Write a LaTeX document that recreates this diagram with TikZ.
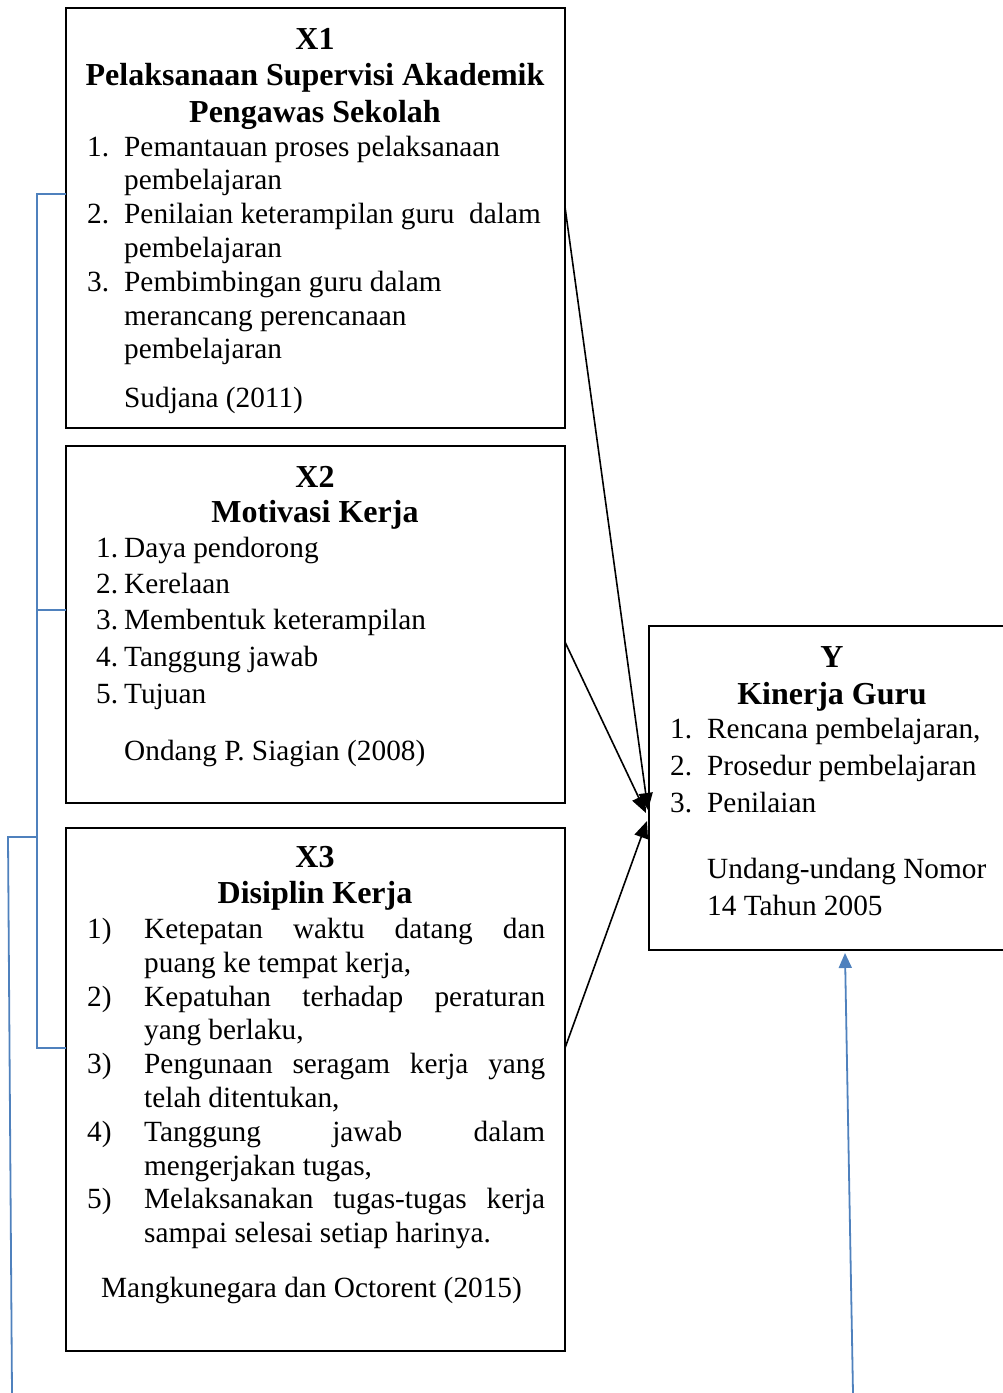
\documentclass[tikz,border=0pt]{standalone}
\usepackage{fontspec}
\setmainfont{Liberation Serif}
\usetikzlibrary{arrows.meta}
\definecolor{bluline}{HTML}{4F81BD}
\newcommand\fsz{\fontsize{29.3}{34}\selectfont}
\newcommand\fsb{\fontsize{32}{36}\selectfont\bfseries}
\begin{document}
\begin{tikzpicture}[x=1pt,y=-1pt,
  box/.style={draw,line width=2pt,anchor=north west,inner sep=0pt,outer sep=0pt},
  txt/.style={anchor=base west,inner sep=0pt,font=\fsz},
  ttl/.style={anchor=base,inner sep=0pt,font=\fsb},
  arr/.style={line width=1.6pt,-{Triangle[length=17pt,width=14pt]}},
  blu/.style={draw=bluline,line width=1.8pt}]
\useasboundingbox (0,0) rectangle (1003,1393);
\clip (0,0) rectangle (1003,1393);
% boxes
\node[box,minimum width=499pt,minimum height=420pt] (X1) at (66,8) {};
\node[box,minimum width=499pt,minimum height=357pt] (X2) at (66,446) {};
\node[box,minimum width=499pt,minimum height=523pt] (X3) at (66,828) {};
\node[box,minimum width=400pt,minimum height=324pt] (Y) at (649,626) {};
% X1 text
\node[ttl] (x1a) at (315,49) {X1};
\node[ttl] (x1b) at (315,85) {Pelaksanaan Supervisi Akademik};
\node[ttl] (x1c) at (315,122) {Pengawas Sekolah};
\node[txt] (x1n1) at (87,156) {1.};
\node[txt] (x1t1) at (124,156) {Pemantauan proses pelaksanaan};
\node[txt] (x1t1b) at (124,189) {pembelajaran};
\node[txt] (x1n2) at (87,223) {2.};
\node[txt] (x1t2) at (124,223) {Penilaian keterampilan guru\ \ dalam};
\node[txt] (x1t2b) at (124,257) {pembelajaran};
\node[txt] (x1n3) at (87,291) {3.};
\node[txt] (x1t3) at (124,291) {Pembimbingan guru dalam};
\node[txt] (x1t3b) at (124,325) {merancang perencanaan};
\node[txt] (x1t3c) at (124,358) {pembelajaran};
\node[txt] (x1s) at (124,407) {Sudjana (2011)};
% X2 text
\node[ttl] (x2a) at (315,487) {X2};
\node[ttl] (x2b) at (315,522) {Motivasi Kerja};
\node[txt] (x2n1) at (96,557) {1.};
\node[txt] (x2t1) at (124,557) {Daya pendorong};
\node[txt] (x2n2) at (96,593) {2.};
\node[txt] (x2t2) at (124,593) {Kerelaan};
\node[txt] (x2n3) at (96,629) {3.};
\node[txt] (x2t3) at (124,629) {Membentuk keterampilan};
\node[txt] (x2n4) at (96,666) {4.};
\node[txt] (x2t4) at (124,666) {Tanggung jawab};
\node[txt] (x2n5) at (96,703) {5.};
\node[txt] (x2t5) at (124,703) {Tujuan};
\node[txt] (x2s) at (124,760) {Ondang P. Siagian (2008)};
% X3 text
\node[ttl] (x3a) at (315,867) {X3};
\node[ttl] (x3b) at (315,903) {Disiplin Kerja};
\node[txt] (x3n1) at (87,938) {1)};
\node[txt] (x3t1) at (144,938) {\makebox[401pt][s]{Ketepatan waktu datang dan}};
\node[txt] (x3t1b) at (144,972) {puang ke tempat kerja,};
\node[txt] (x3n2) at (87,1006) {2)};
\node[txt] (x3t2) at (144,1006) {\makebox[401pt][s]{Kepatuhan terhadap peraturan}};
\node[txt] (x3t2b) at (144,1039) {yang berlaku,};
\node[txt] (x3n3) at (87,1073) {3)};
\node[txt] (x3t3) at (144,1073) {\makebox[401pt][s]{Pengunaan seragam kerja yang}};
\node[txt] (x3t3b) at (144,1107) {telah ditentukan,};
\node[txt] (x3n4) at (87,1141) {4)};
\node[txt] (x3t4) at (144,1141) {\makebox[401pt][s]{Tanggung jawab dalam}};
\node[txt] (x3t4b) at (144,1175) {mengerjakan tugas,};
\node[txt] (x3n5) at (87,1208) {5)};
\node[txt] (x3t5) at (144,1208) {\makebox[401pt][s]{Melaksanakan tugas-tugas kerja}};
\node[txt] (x3t5b) at (144,1242) {sampai selesai setiap harinya.};
\node[txt] (x3s) at (101,1297) {Mangkunegara dan Octorent (2015)};
% Y text
\node[ttl] (ya) at (832,667) {Y};
\node[ttl] (yb) at (832,704) {Kinerja Guru};
\node[txt] (yn1) at (670,738) {1.};
\node[txt] (yt1) at (707,738) {Rencana pembelajaran,};
\node[txt] (yn2) at (670,775) {2.};
\node[txt] (yt2) at (707,775) {Prosedur pembelajaran};
\node[txt] (yn3) at (670,812) {3.};
\node[txt] (yt3) at (707,812) {Penilaian};
\node[txt] (ys1) at (707,878) {Undang-undang Nomor};
\node[txt] (ys2) at (707,915) {14 Tahun 2005};
% black arrows
\coordinate (o1) at (565,207);
\coordinate (o2) at (565,642);
\coordinate (o3) at (565,1048);
\coordinate (e1) at (648,810);
\coordinate (e2) at (646,813);
\coordinate (e3) at (647,821);
\draw[arr] (o1) -- (e1);
\draw[arr] (o2) -- (e2);
\draw[arr] (o3) -- (e3);
% blue bracket
\coordinate (b1) at (37,194);
\coordinate (b2) at (37,610);
\coordinate (b3) at (37,1048);
\coordinate (bj) at (37,837);
\coordinate (bl1) at (8,837);
\coordinate (bl2) at (12,1393);
\draw[blu] (X1.west |- b1) -- (b1) -- (b3) -- (X3.west |- b3);
\draw[blu] (b2) -- (X2.west |- b2);
\draw[blu] (bj) -- (bl1) -- (bl2);
% blue arrow to Y
\coordinate (yf) at (853,1393);
\coordinate (yt) at (845,953);
\draw[blu,-{Triangle[length=15pt,width=13pt]}] (yf) -- (yt);
\end{tikzpicture}
\end{document}
